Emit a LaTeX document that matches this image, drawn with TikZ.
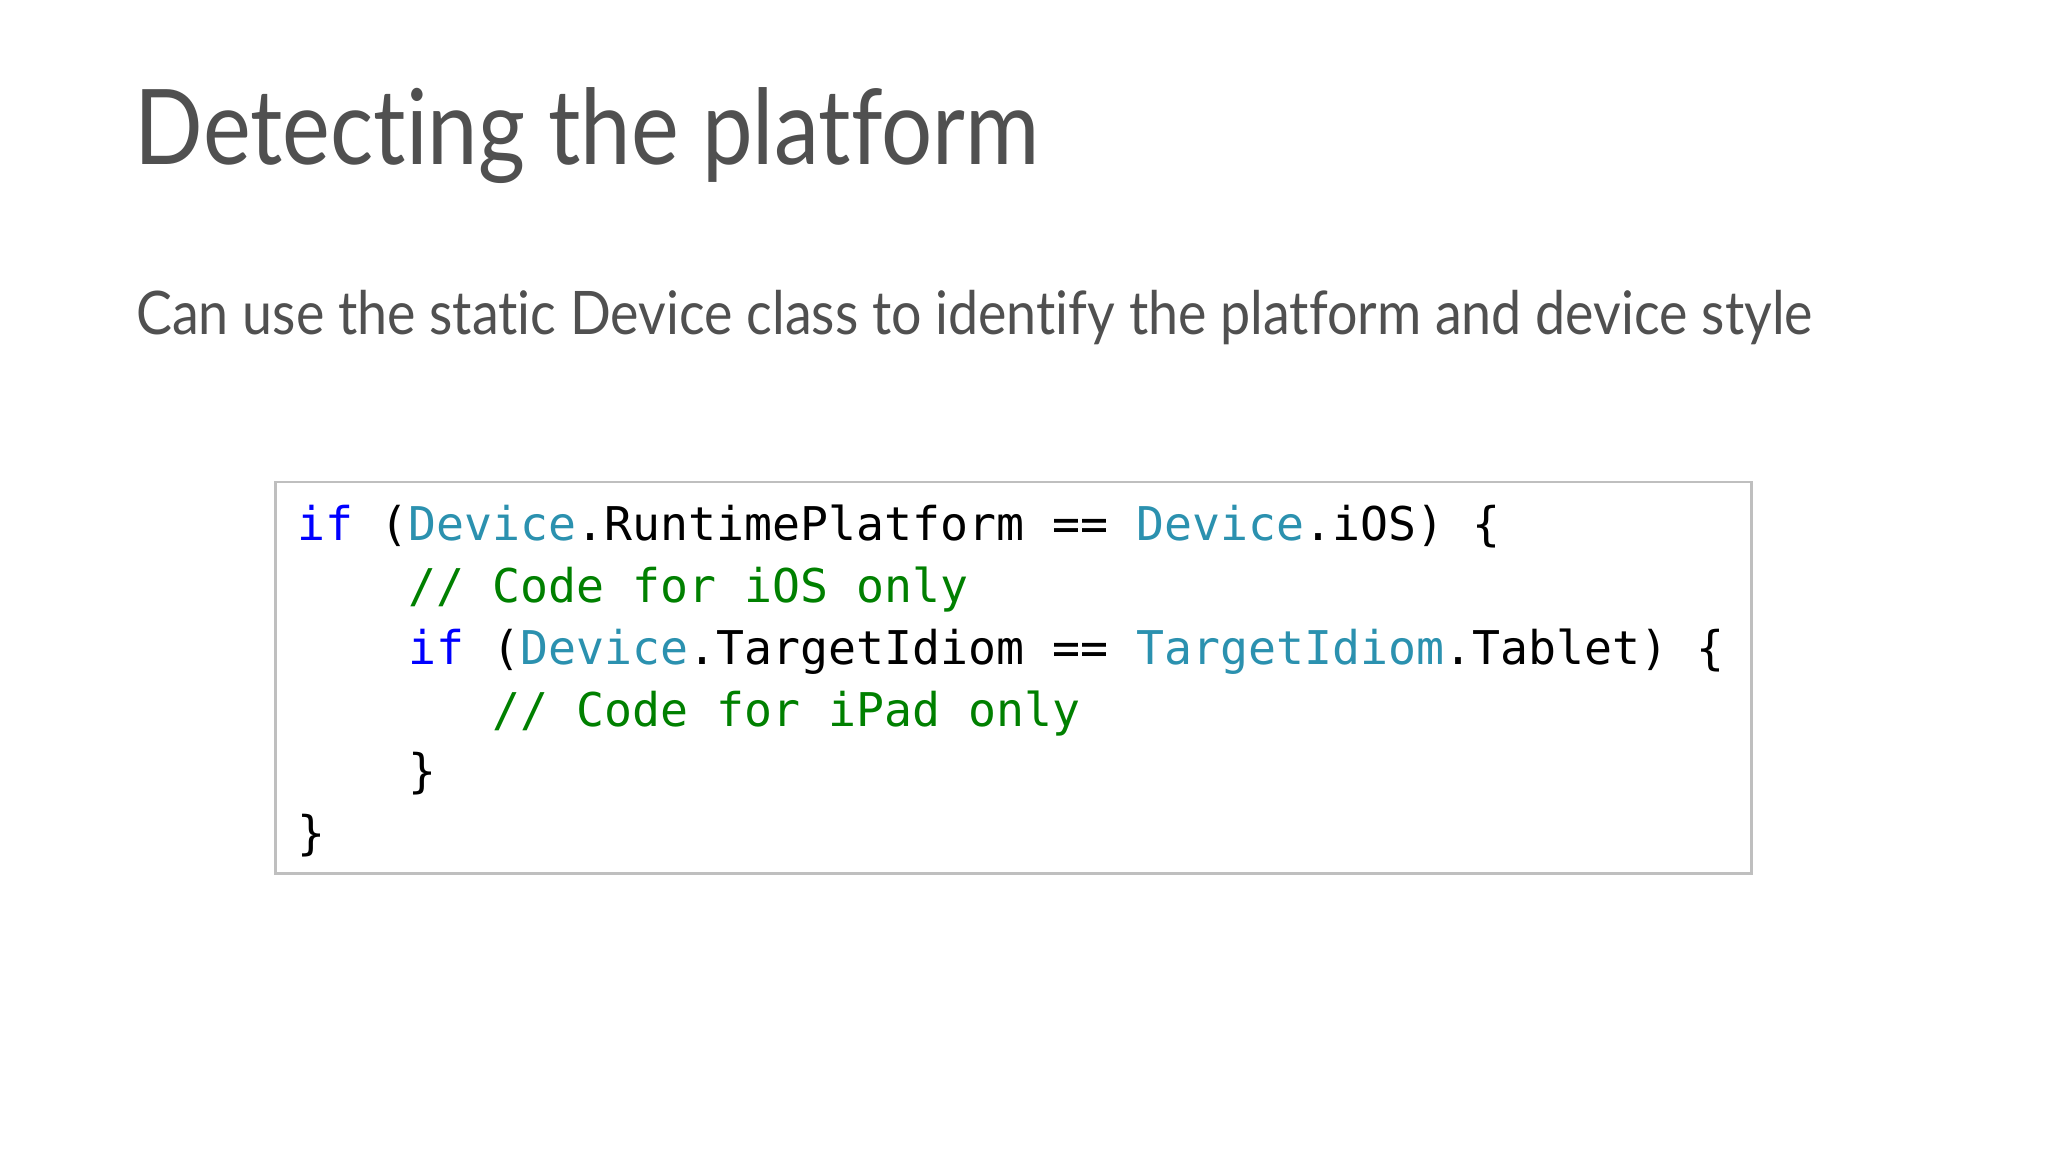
\documentclass[tikz,border=0pt]{standalone}
\usepackage{fontspec}
\setmainfont{Lato}[Ligatures=NoCommon]
\setmonofont{DejaVu Sans Mono}
\definecolor{kw}{RGB}{0,0,255}
\definecolor{ty}{RGB}{43,145,175}
\definecolor{cm}{RGB}{0,128,0}
\definecolor{tx}{RGB}{80,80,80}
\begin{document}
\begin{tikzpicture}[x=0.5pt,y=-0.5pt,
  codeline/.style={anchor=base west,inner sep=0pt,font=\fontsize{17.8}{20}\ttfamily,text=black}]
\useasboundingbox (0,0) rectangle (1568,882);
\fill[white] (0,0) rectangle (1568,882);
\node[anchor=base west,inner sep=0pt,text=tx,xscale=0.865,font=\fontsize{40}{46}\selectfont] (title) at (103,126) {Detecting the platform};
\node[anchor=base west,inner sep=0pt,text=tx,xscale=0.895,font=\fontsize{23}{28}\selectfont] (sub) at (104,256) {Can use the static Device class to identify the platform and device style};
\draw[draw=black!25,line width=1pt] (211,369) rectangle (1341,669);
\node[codeline] (l1) at (227,414) {\textcolor{kw}{if} (\textcolor{ty}{Device}.RuntimePlatform == \textcolor{ty}{Device}.iOS) \{};
\node[codeline] (l2) at (227,461.3) {\hphantom{xxxx}\textcolor{cm}{// Code for iOS only}};
\node[codeline] (l3) at (227,508.6) {\hphantom{xxxx}\textcolor{kw}{if} (\textcolor{ty}{Device}.TargetIdiom == \textcolor{ty}{TargetIdiom}.Tablet) \{};
\node[codeline] (l4) at (227,555.9) {\hphantom{xxxxxxx}\textcolor{cm}{// Code for iPad only}};
\node[codeline] (l5) at (227,603.2) {\hphantom{xxxx}\}};
\node[codeline] (l6) at (227,650.5) {\}};
\end{tikzpicture}
\end{document}
